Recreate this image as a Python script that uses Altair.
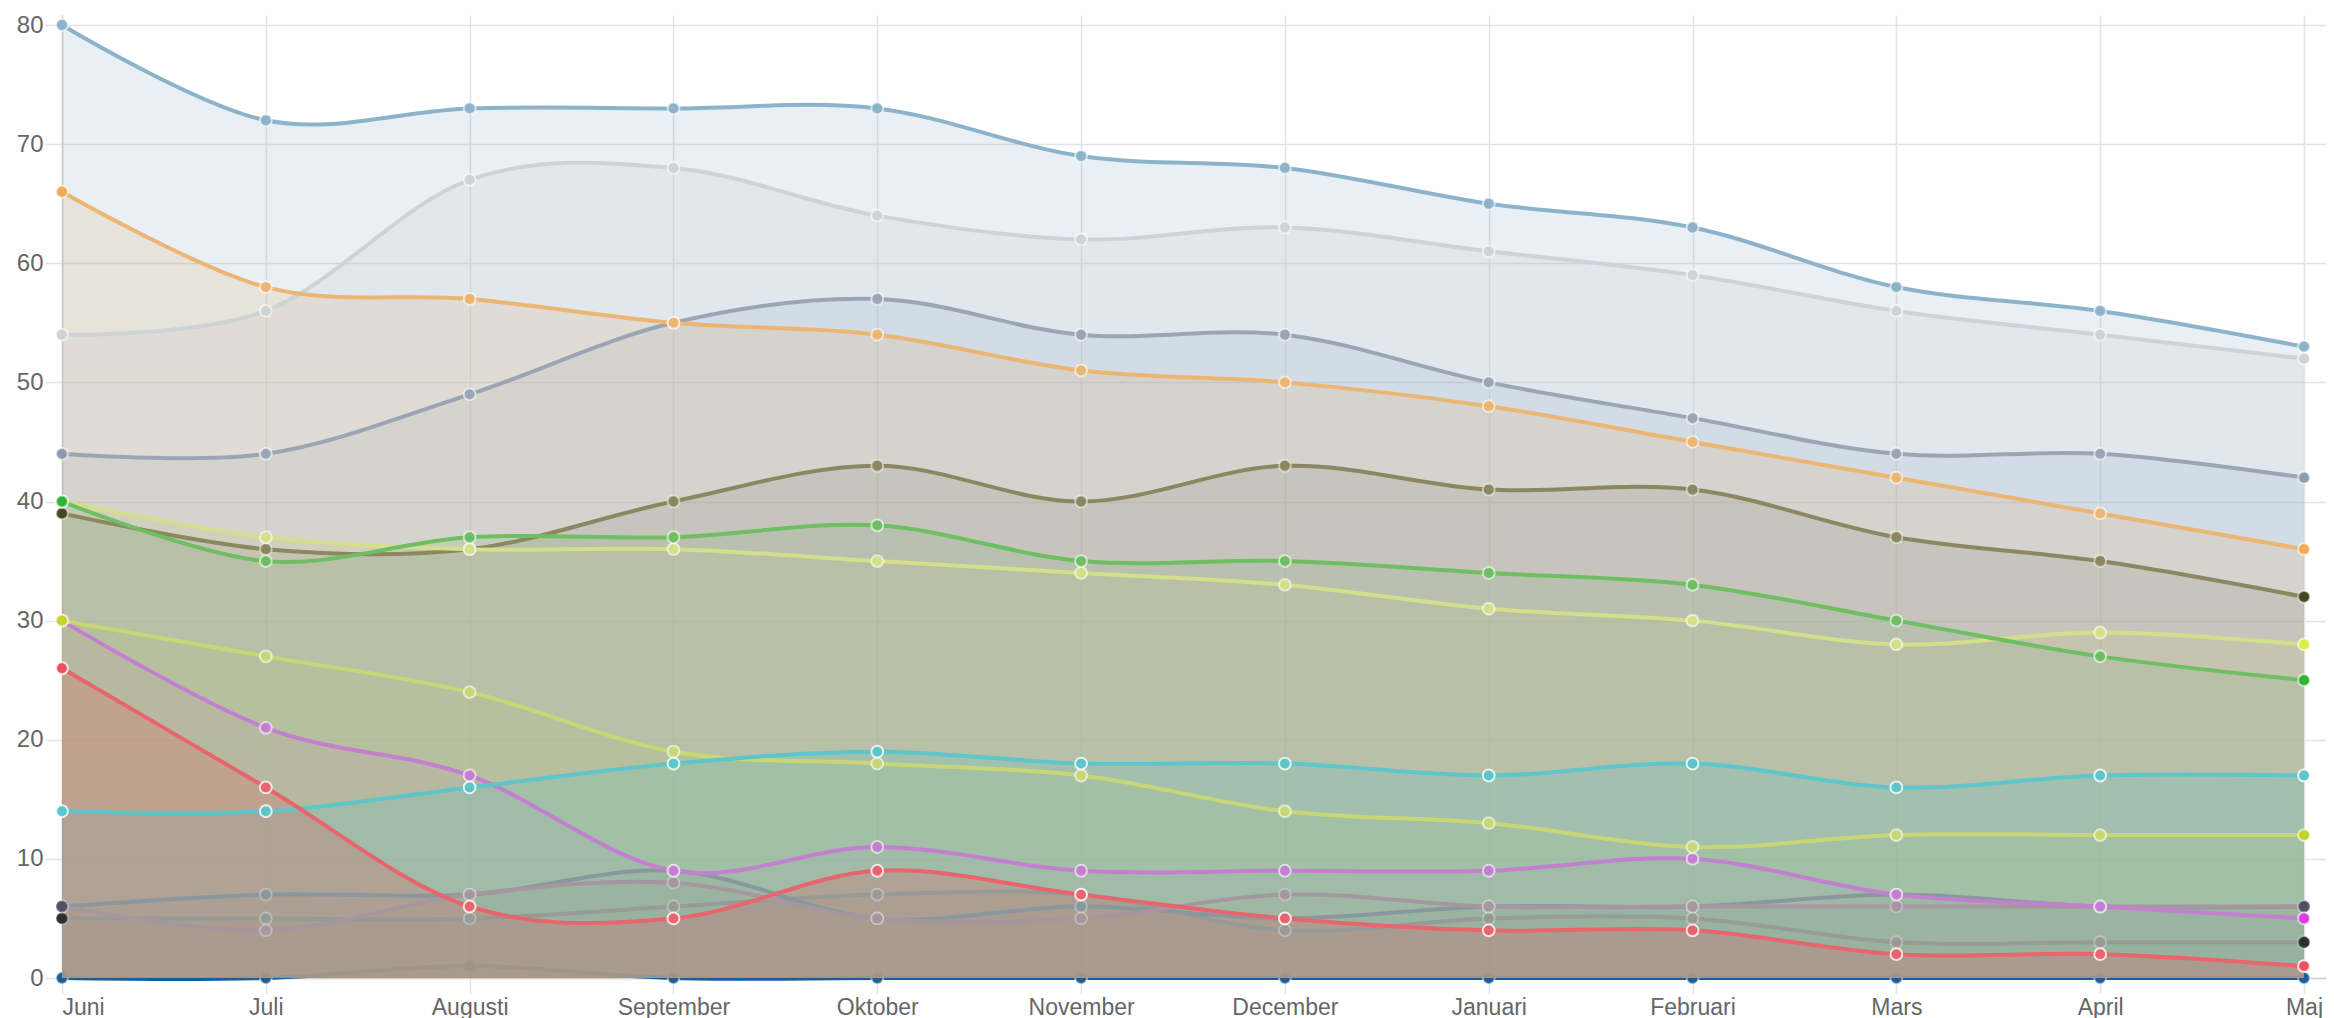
import altair as alt
import pandas as pd

months = ["Juni", "Juli", "Augusti", "September", "Oktober", "November",
          "December", "Januari", "Februari", "Mars", "April", "Maj"]

s_blue = [80, 72, 73, 73, 73, 69, 68, 65, 63, 58, 56, 53]
s_lightgrey = [54, 56, 67, 68, 64, 62, 63, 61, 59, 56, 54, 52]
s_orange = [66, 58, 57, 55, 54, 51, 50, 48, 45, 42, 39, 36]
s_slate = [44, 44, 49, 55, 57, 54, 54, 50, 47, 44, 44, 42]
s_olive = [39, 36, 36, 40, 43, 40, 43, 41, 41, 37, 35, 32]
s_green = [40, 35, 37, 37, 38, 35, 35, 34, 33, 30, 27, 25]
s_lime = [40, 37, 36, 36, 35, 34, 33, 31, 30, 28, 29, 28]
s_yellowgreen = [30, 27, 24, 19, 18, 17, 14, 13, 11, 12, 12, 12]
s_cyan = [14, 14, 16, 18, 19, 18, 18, 17, 18, 16, 17, 17]
s_magenta = [30, 21, 17, 9, 11, 9, 9, 9, 10, 7, 6, 5]
s_red = [26, 16, 6, 5, 9, 7, 5, 4, 4, 2, 2, 1]
s_greyteal = [6, 7, 7, 9, 5, 6, 5, 6, 6, 7, 6, 6]
s_grey = [5, 5, 5, 6, 7, 7, 4, 5, 5, 3, 3, 3]
s_pinkgrey = [6, 4, 7, 8, 5, 5, 7, 6, 6, 6, 6, 6]
s_darkblue = [0, 0, 1, 0, 0, 0, 0, 0, 0, 0, 0, 0]

# name, values, fill colour, line colour, edge-point colour, point ring opacity
# (fill drawing order, first = bottom)
series = [
    ("grey", s_grey, "#2a2a2a", "#979a96", "#2e2e2e", 0.3),
    ("greyteal", s_greyteal, "#4a5566", "#8a989e", "#4f5866", 0.3),
    ("pinkgrey", s_pinkgrey, "#8a6070", "#a6979f", "#4d5262", 0.3),
    ("darkblue", s_darkblue, "#1a5f99", "#1a5f99", "#1a5f99", 0.5),
    ("olive", s_olive, "#5a5630", "#8a8761", "#4a4522", 0.5),
    ("magenta", s_magenta, "#d040e0", "#c380d0", "#dc3ede", 0.6),
    ("yellowgreen", s_yellowgreen, "#bdd030", "#c8d776", "#c4d428", 0.6),
    ("lime", s_lime, "#dce85a", "#d3df8b", "#dfec48", 0.6),
    ("green", s_green, "#3fb63f", "#6fbe63", "#30b530", 0.6),
    ("slate", s_slate, "#8f9cb2", "#9ba5b6", "#8e9ab0", 0.6),
    ("lightgrey", s_lightgrey, "#cbd0d3", "#ced3d6", "#ced3d6", 0.6),
    ("orange", s_orange, "#f0b060", "#edb574", "#f2ab55", 0.6),
    ("blue", s_blue, "#8fb4cb", "#8db3ca", "#8db3ca", 0.6),
    ("cyan", s_cyan, "#4cc3c8", "#5ec5ca", "#5ec5ca", 0.8),
    ("red", s_red, "#ee4050", "#e8656e", "#ee5060", 0.8),
]

rows = []
for name, vals, *_ in series:
    for i, v in enumerate(vals):
        rows.append({"m": i, "v": v, "s": name})
df = pd.DataFrame(rows)

label_expr = "[" + ",".join("'" + m + "'" for m in months) + "][datum.value]"
FONT = "Liberation Sans"
GRID = "#e3e3e3"
LAST = len(months) - 1

X = alt.X("m:Q",
          scale=alt.Scale(domain=[0, 11.108], nice=False, zero=False),
          axis=alt.Axis(values=list(range(12)), labelExpr=label_expr, title=None,
                        grid=True, gridColor=GRID, gridWidth=1.5,
                        tickSize=15, tickColor=GRID, tickWidth=1.5,
                        labelPadding=3, labelBaseline="top",
                        labelFontSize=23, labelColor="#666666", labelFont=FONT,
                        labelOverlap=False, domainColor="#cfcfcf", domainWidth=1.5))
Y = alt.Y("v:Q",
          scale=alt.Scale(domain=[0, 80.84], nice=False),
          axis=alt.Axis(values=list(range(0, 81, 10)), title=None,
                        grid=True, gridColor=GRID, gridWidth=1.5,
                        tickSize=17, tickColor=GRID, tickWidth=1.5,
                        labelPadding=2, labelFontSize=24, labelColor="#666666",
                        labelFont=FONT, domainColor="#cfcfcf", domainWidth=1.5))

base = alt.Chart(df).encode(x=X, y=Y)
INTERP = "cardinal"
PT = 140

layers = []
# dark blue line drawn beneath the fills
db = base.transform_filter(alt.datum.s == "darkblue")
layers.append(db.mark_line(color="#1a5f99", strokeWidth=4, interpolate=INTERP, tension=0))
layers.append(db.mark_circle(fill="#1a5f99", size=PT, opacity=1, stroke="#ffffff",
                             strokeWidth=2, strokeOpacity=0.5))

for name, _, fillc, *_ in series:
    layers.append(base.transform_filter(alt.datum.s == name)
                  .mark_area(color=fillc, fillOpacity=0.2, interpolate=INTERP, tension=0))

for name, _, _, linec, *_ in series:
    if name == "darkblue":
        continue
    layers.append(base.transform_filter(alt.datum.s == name)
                  .mark_line(color=linec, strokeWidth=4, interpolate=INTERP, tension=0))

for name, _, _, linec, edgec, ring in series:
    if name == "darkblue":
        continue
    sel = base.transform_filter(alt.datum.s == name)
    layers.append(sel.transform_filter((alt.datum.m > 0) & (alt.datum.m < LAST))
                  .mark_circle(fill=linec, size=PT, opacity=1, stroke="#ffffff",
                               strokeWidth=2, strokeOpacity=ring))
    layers.append(sel.transform_filter((alt.datum.m == 0) | (alt.datum.m == LAST))
                  .mark_circle(fill=edgec, size=PT, opacity=1, stroke="#ffffff",
                               strokeWidth=2, strokeOpacity=ring))

chart = alt.layer(*layers).properties(
    width=2264, height=963,
    padding={"left": 54, "top": 7, "right": 0, "bottom": 42},
    autosize=alt.AutoSizeParams(type="none"),
    background="#ffffff",
).configure_view(stroke=None)

chart.save("out.html", embed_options={"renderer": "svg", "actions": False})
